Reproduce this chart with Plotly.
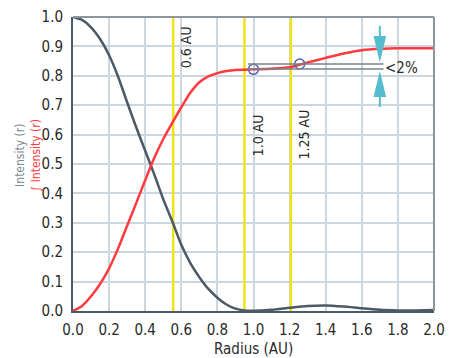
import plotly.graph_objects as go

# ---- data ----
int_radius = [0.0, 0.05, 0.1, 0.15, 0.2, 0.25, 0.3, 0.35, 0.4, 0.45, 0.5, 0.55, 0.6, 0.65, 0.7, 0.75, 0.8, 0.85, 0.9, 0.95, 1.0, 1.1, 1.2, 1.3, 1.4, 1.5, 1.6, 1.7, 1.8, 1.9, 2.0]
intensity = [1.0, 0.99, 0.965, 0.925, 0.87, 0.797, 0.71, 0.625, 0.545, 0.465, 0.38, 0.305, 0.225, 0.163, 0.115, 0.075, 0.045, 0.022, 0.008, 0.002, 0.001, 0.004, 0.011, 0.017, 0.019, 0.015, 0.009, 0.004, 0.002, 0.002, 0.003]

ee_radius = [0.0, 0.05, 0.1, 0.15, 0.2, 0.25, 0.3, 0.35, 0.4, 0.45, 0.5, 0.55, 0.6, 0.65, 0.7, 0.75, 0.8, 0.85, 0.9, 1.0, 1.1, 1.2, 1.3, 1.4, 1.5, 1.6, 1.7, 1.8, 1.9, 2.0]
encircled = [0.0, 0.017, 0.05, 0.092, 0.145, 0.213, 0.29, 0.367, 0.445, 0.52, 0.585, 0.64, 0.693, 0.742, 0.778, 0.798, 0.809, 0.816, 0.82, 0.822, 0.824, 0.829, 0.845, 0.861, 0.876, 0.887, 0.892, 0.894, 0.894, 0.894]

marker_r = [1.0, 1.256]
marker_v = [0.822, 0.84]

marks_x = [0.555, 0.95, 1.207]
marks_label = ["0.6 AU", "1.0 AU", "1.25 AU"]
marks_label_y = [0.898, 0.599, 0.6]

x_ticks = [0.0, 0.2, 0.4, 0.6, 0.8, 1.0, 1.2, 1.4, 1.6, 1.8, 2.0]
y_ticks = [0.0, 0.1, 0.2, 0.3, 0.4, 0.5, 0.6, 0.7, 0.8, 0.9, 1.0]

FONT = "Liberation Sans Narrow, DejaVu Sans Condensed, Roboto, sans-serif"
YELLOW = "#f2e21c"
RED = "#ff3b3f"
DARK = "#4b5a66"
CYAN = "#55bccd"
GRID = "#ccd6df"
TXT = "#2a2a2a"

fig = go.Figure()

shapes = []
for xv in marks_x:
    shapes.append(dict(type="line", xref="x", yref="y", x0=xv, x1=xv, y0=0, y1=1,
                       line=dict(color=YELLOW, width=2.5), layer="between"))

# gray reference lines
for yv in [0.84, 0.823]:
    shapes.append(dict(type="line", xref="x", yref="y", x0=0.97, x1=1.72, y0=yv, y1=yv,
                       line=dict(color="#77838c", width=1.5)))

# cyan arrows
ax = 1.70
shapes.append(dict(type="line", xref="x", yref="y", x0=ax, x1=ax, y0=0.97, y1=0.93,
                   line=dict(color=CYAN, width=2)))
shapes.append(dict(type="path", xref="x", yref="y",
                   path=f"M {ax-0.035},0.935 L {ax+0.035},0.935 L {ax},0.845 Z",
                   fillcolor=CYAN, line=dict(color=CYAN, width=0)))
shapes.append(dict(type="line", xref="x", yref="y", x0=ax, x1=ax, y0=0.735, y1=0.694,
                   line=dict(color=CYAN, width=2)))
shapes.append(dict(type="path", xref="x", yref="y",
                   path=f"M {ax-0.035},0.728 L {ax+0.035},0.728 L {ax},0.816 Z",
                   fillcolor=CYAN, line=dict(color=CYAN, width=0)))

# top and right border
shapes.append(dict(type="line", xref="paper", yref="paper", x0=0, x1=1, y0=1, y1=1,
                   line=dict(color="#8c969c", width=2)))
shapes.append(dict(type="line", xref="paper", yref="paper", x0=1, x1=1, y0=0, y1=1,
                   line=dict(color="#8c969c", width=2)))

fig.add_trace(go.Scatter(x=int_radius, y=intensity, mode="lines",
                         line=dict(color=DARK, width=2.5, shape="spline", smoothing=0.6),
                         showlegend=False, hoverinfo="skip"))
fig.add_trace(go.Scatter(x=ee_radius, y=encircled, mode="lines",
                         line=dict(color=RED, width=2.5, shape="spline", smoothing=0.6),
                         showlegend=False, hoverinfo="skip"))
fig.add_trace(go.Scatter(x=marker_r, y=marker_v, mode="markers",
                         marker=dict(symbol="circle-open", size=10, color="#5565b5", line=dict(width=1.5)),
                         showlegend=False, hoverinfo="skip"))

annotations = []
for xv, lab, ly in zip(marks_x, marks_label, marks_label_y):
    annotations.append(dict(x=xv, y=ly, xref="x", yref="y", text=lab, textangle=-90,
                            showarrow=False, xanchor="left", xshift=3,
                            font=dict(family=FONT, size=14, color=TXT)))
annotations.append(dict(x=1.72, y=0.828, xref="x", yref="y", text="<2%", showarrow=False,
                        xanchor="left", font=dict(family=FONT, size=15, color=TXT)))
annotations.append(dict(x=-0.124, y=0.53, xref="paper", yref="paper",
                        xanchor="center", yanchor="middle",
                        text="Intensity (r)<br><span style='color:#ff3b3f'>\u222b Intensity (r)</span>",
                        textangle=-90, showarrow=False,
                        font=dict(family=FONT, size=12, color="#7d8990")))
annotations.append(dict(x=0.5, y=0, xref="paper", yref="paper", text="Radius (AU)",
                        showarrow=False, yanchor="middle", yshift=-38,
                        font=dict(family=FONT, size=15, color=TXT)))

fig.update_layout(
    width=452, height=358,
    margin=dict(l=73, r=7, t=17, b=47),
    paper_bgcolor="white", plot_bgcolor="white",
    shapes=shapes, annotations=annotations,
    font=dict(family=FONT, size=15, color=TXT),
    xaxis=dict(range=[0, 2.0], tickvals=x_ticks, ticktext=[f"{v:.1f}" for v in x_ticks],
               showgrid=True, gridcolor=GRID, gridwidth=1.5, zeroline=False,
               showline=True, linecolor=DARK, linewidth=2,
               ticks="", ticklabelstandoff=4, ticklabeloverflow="allow",
               tickfont=dict(family=FONT, size=15, color=TXT)),
    yaxis=dict(range=[0, 1.0], tickvals=y_ticks, ticktext=[f"{v:.1f}" for v in y_ticks],
               showgrid=True, gridcolor=GRID, gridwidth=1.5, zeroline=False,
               showline=True, linecolor=DARK, linewidth=2,
               ticks="", ticklabelstandoff=5, ticklabeloverflow="allow",
               tickfont=dict(family=FONT, size=15, color=TXT)),
)

fig.write_html("out.html", config={"displayModeBar": False},
               post_script="document.body.style.margin='0';")
